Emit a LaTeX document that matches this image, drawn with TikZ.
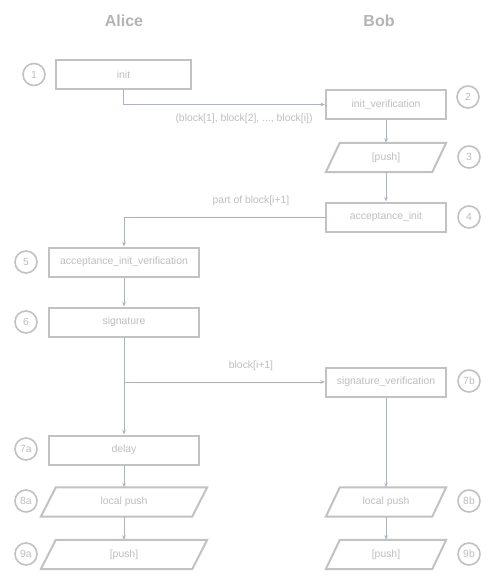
\documentclass[tikz,border=0pt]{standalone}
\usepackage{fontspec}
\setmainfont{Liberation Sans}
\usetikzlibrary{arrows.meta}
\definecolor{txtgray}{RGB}{190,190,190}
\definecolor{titlegray}{RGB}{180,180,180}
\definecolor{boxgray}{RGB}{194,194,194}
\definecolor{arrgray}{RGB}{166,180,198}
\tikzset{
  boxnode/.style={draw=boxgray, line width=2pt, minimum height=29pt, inner sep=0pt, text=txtgray, font=\fontsize{10.4pt}{12pt}\selectfont},
  paranode/.style={draw=none, minimum height=29pt, inner sep=0pt, text=txtgray, font=\fontsize{10.4pt}{12pt}\selectfont},
  paraline/.style={draw=boxgray, line width=2pt, line join=miter},
  numcirc/.style={circle, draw=boxgray, line width=1.6pt, minimum size=22pt, inner sep=0pt, text=txtgray, font=\fontsize{10.4pt}{12pt}\selectfont},
  title/.style={text=titlegray, font=\bfseries\fontsize{16pt}{19pt}\selectfont},
  lbl/.style={text=txtgray, font=\fontsize{10.4pt}{12pt}\selectfont},
  arr/.style={draw=arrgray, line width=1pt, -{Stealth[length=4.5pt,width=3.5pt]}}
}
\newcommand{\paraoutline}[2]{%
  \draw[paraline] ([xshift=#2]#1.north west) -- (#1.north east) -- ([xshift=-#2]#1.south east) -- (#1.south west) -- cycle;}
\begin{document}
\begin{tikzpicture}[x=1pt,y=-1pt]
\useasboundingbox[fill=white] (0,0) rectangle (495,585);
% titles
\node[title] (alice) at (124,21) {Alice};
\node[title] (bob) at (379,21) {Bob};
% boxes
\node[boxnode, minimum width=135pt] (init) at (123.5,74.5) {init};
\node[boxnode, minimum width=120pt] (iv) at (386,104.5) {init\_verification};
\node[paranode, minimum width=120pt] (push1) at (386,157.5) {[push]};
\paraoutline{push1}{14pt}
\node[boxnode, minimum width=120pt] (ai) at (386,217) {acceptance\_init};
\node[boxnode, minimum width=150pt] (aiv) at (124,262) {acceptance\_init\_verification};
\node[boxnode, minimum width=150pt] (sig) at (124,322) {signature};
\node[boxnode, minimum width=120pt] (sv) at (386,382) {signature\_verification};
\node[boxnode, minimum width=150pt] (delay) at (124,450) {delay};
\node[paranode, minimum width=166pt] (lpa) at (124,502) {local push};
\paraoutline{lpa}{15pt}
\node[paranode, minimum width=166pt] (pa) at (124,554.5) {[push]};
\paraoutline{pa}{15pt}
\node[paranode, minimum width=120pt] (lpb) at (386,502) {local push};
\paraoutline{lpb}{14pt}
\node[paranode, minimum width=120pt] (pb) at (386,554.5) {[push]};
\paraoutline{pb}{14pt}
% number circles
\node[numcirc] (c1) at (34,74.5) {1};
\node[numcirc] (c2) at (468,97) {2};
\node[numcirc] (c3) at (469,157) {3};
\node[numcirc] (c4) at (469,217) {4};
\node[numcirc] (c5) at (26,262) {5};
\node[numcirc] (c6) at (26,322) {6};
\node[numcirc] (c7b) at (469,381) {7b};
\node[numcirc] (c7a) at (26,449) {7a};
\node[numcirc] (c8a) at (26,501) {8a};
\node[numcirc] (c8b) at (469,501) {8b};
\node[numcirc] (c9a) at (26,554) {9a};
\node[numcirc] (c9b) at (469,554) {9b};
% connectors
\draw[arr] (init.south) |- (iv.west);
\node[lbl] (l1) at (244,119) {(block[1], block[2], ..., block[i])};
\draw[arr] (iv.south) -- (push1.north);
\draw[arr] (push1.south) -- (ai.north);
\draw[arr] (ai.west) -| (aiv.north);
\node[lbl] (l2) at (251,201) {part of block[i+1]};
\draw[arr] (aiv.south) -- (sig.north);
\draw[arr] (sig.south) -- (delay.north);
\coordinate (br) at (sig.south |- sv.west);
\draw[arr] (br) -- (sv.west);
\node[lbl] (l3) at (251,366) {block[i+1]};
\draw[arr] (delay.south) -- (lpa.north);
\draw[arr] (lpa.south) -- (pa.north);
\draw[arr] (sv.south) -- (lpb.north);
\draw[arr] (lpb.south) -- (pb.north);
\end{tikzpicture}
\end{document}
